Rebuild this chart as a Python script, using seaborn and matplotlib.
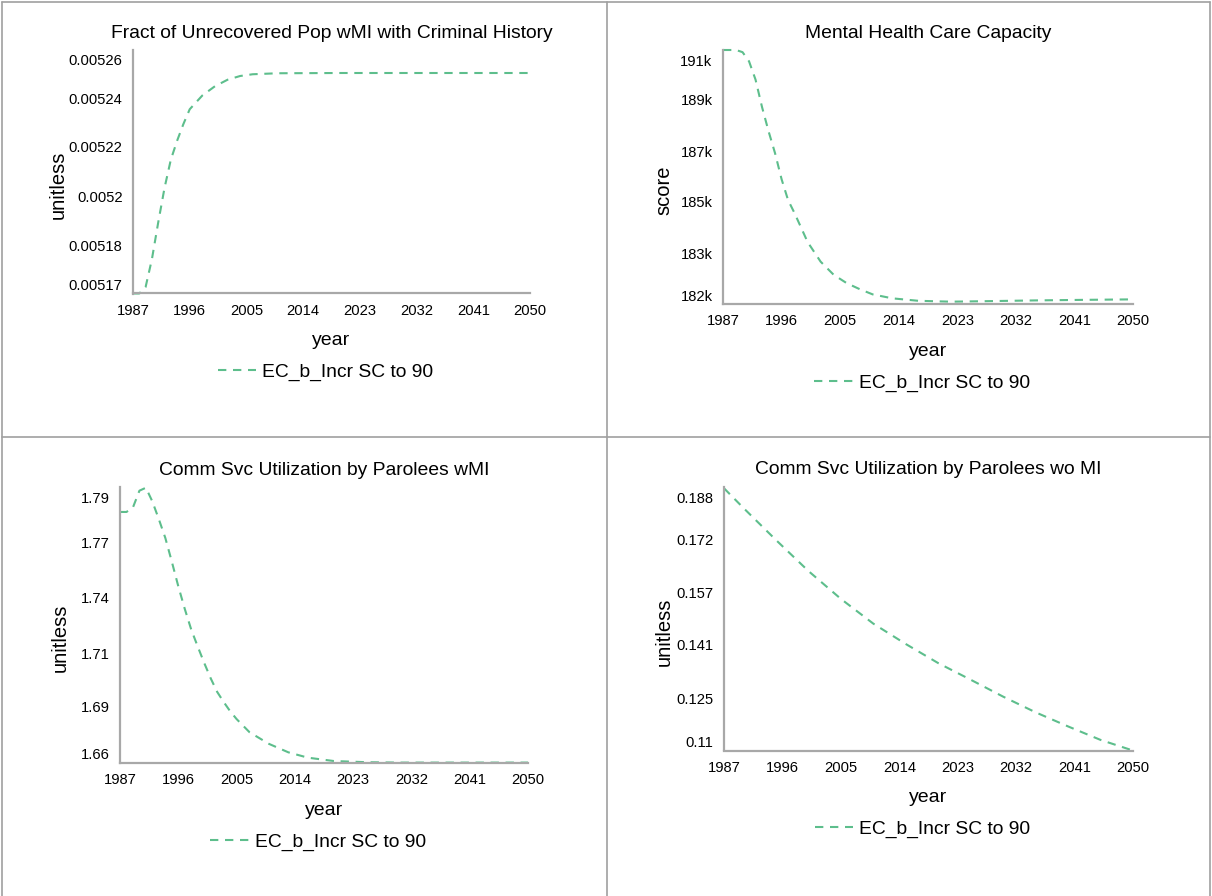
import pandas as pd
import matplotlib.pyplot as plt
from matplotlib.lines import Line2D
import seaborn as sns

# --- values ---
scenario = "EC_b_Incr SC to 90"
x_ticks = [1987, 1996, 2005, 2014, 2023, 2032, 2041, 2050]

fract_years = [1987, 1988, 1989, 1990, 1991, 1992, 1993, 1994, 1995, 1996, 1998,
               2000, 2002, 2004, 2006, 2010, 2020, 2030, 2040, 2050]
fract_values = [0.0051663, 0.0051663, 0.0051689, 0.0051800, 0.0051947, 0.0052085,
                0.0052198, 0.0052274, 0.0052341, 0.0052400, 0.0052455, 0.0052492,
                0.0052518, 0.0052533, 0.0052540, 0.0052544, 0.0052545, 0.0052545,
                0.0052545, 0.0052545]
fract_yticks = [0.00517, 0.0051853, 0.0052052, 0.005225, 0.0052444, 0.00526]
fract_ylabels = ["0.00517", "0.00518", "0.0052", "0.00522", "0.00524", "0.00526"]
fract_ylim = (0.0051663, 0.0052637)

capacity_years = [1987, 1989, 1990, 1991, 1992, 1993, 1994, 1995, 1996, 1997, 1998,
                  2000, 2002, 2004, 2006, 2008, 2010, 2013, 2017, 2022, 2028, 2035,
                  2042, 2050]
capacity_values = [191382, 191382, 191300, 190950, 190250, 189200, 188280, 187440,
                   186450, 185650, 185150, 184050, 183300, 182800, 182480, 182250,
                   182050, 181900, 181805, 181772, 181793, 181820, 181840, 181860]
capacity_yticks = [182000, 183619, 185588, 187524, 189499, 191000]
capacity_ylabels = ["182k", "183k", "185k", "187k", "189k", "191k"]
capacity_ylim = (181683, 191382)

wmi_years = [1987, 1988, 1989, 1990, 1991, 1992, 1993, 1994, 1995, 1996, 1997, 1998,
             1999, 2000, 2001, 2002, 2003, 2004, 2005, 2007, 2010, 2013, 2016, 2020,
             2025, 2030, 2040, 2050]
wmi_values = [1.7827, 1.7827, 1.7850, 1.7935, 1.7950, 1.7880, 1.7790, 1.7695, 1.7575,
              1.7450, 1.7335, 1.7230, 1.7144, 1.7061, 1.6983, 1.6914, 1.6863, 1.6816,
              1.6776, 1.6709, 1.6650, 1.6607, 1.6580, 1.6563, 1.6557, 1.6555, 1.6555,
              1.6555]
wmi_yticks = [1.66, 1.68396, 1.711, 1.73951, 1.76736, 1.79]
wmi_ylabels = ["1.66", "1.69", "1.71", "1.74", "1.77", "1.79"]
wmi_ylim = (1.65529, 1.79537)

womi_years = [1987, 1990, 1995, 2000, 2005, 2010, 2015, 2020, 2025, 2030, 2035,
              2040, 2045, 2050]
womi_values = [0.1908, 0.1845, 0.1743, 0.1644, 0.1555, 0.1476, 0.1411, 0.1350,
               0.1297, 0.1243, 0.1193, 0.1148, 0.1105, 0.1071]
womi_yticks = [0.11, 0.12375, 0.14101, 0.15763, 0.17457, 0.188]
womi_ylabels = ["0.11", "0.125", "0.141", "0.157", "0.172", "0.188"]
womi_ylim = (0.10712, 0.19120)

panels = [
    ("Fract of Unrecovered Pop wMI with Criminal History", "unitless",
     fract_years, fract_values, fract_yticks, fract_ylabels, fract_ylim),
    ("Mental Health Care Capacity", "score",
     capacity_years, capacity_values, capacity_yticks, capacity_ylabels, capacity_ylim),
    ("Comm Svc Utilization by Parolees wMI", "unitless",
     wmi_years, wmi_values, wmi_yticks, wmi_ylabels, wmi_ylim),
    ("Comm Svc Utilization by Parolees wo MI", "unitless",
     womi_years, womi_values, womi_yticks, womi_ylabels, womi_ylim),
]

# axes boxes in pixels: left, top, right, bottom ; and y-label x centre
W, H = 1212, 896
boxes = [(133, 50, 530, 293.5), (723, 50, 1133, 304),
         (120, 487, 528, 763), (724, 487, 1133, 750.5)]
ylabel_x = [58, 664, 60, 664]

line_color = "#5DBE8C"
spine_color = "#A8A8A8"

sns.set_style("white")
plt.rcParams["font.family"] = ["Liberation Sans", "DejaVu Sans"]
plt.rcParams["text.color"] = "black"
plt.rcParams["axes.labelcolor"] = "black"

fig = plt.figure(figsize=(W / 100, H / 100), dpi=100)

for (title, ylab, years, values, yt, ytl, ylim), box, ylx in zip(panels, boxes, ylabel_x):
    l, t, r, b = box
    w, h = r - l, b - t
    ax = fig.add_axes([l / W, 1 - b / H, w / W, h / H])
    df = pd.DataFrame({"year": years, "value": values})
    sns.lineplot(data=df, x="year", y="value", ax=ax, color=line_color,
                 linewidth=1.5, linestyle=(0, (4, 3.2)), label=scenario,
                 clip_on=False)

    ax.set_xlim(1987, 2050)
    ax.set_ylim(*ylim)
    ax.set_xticks(x_ticks)
    ax.set_xticklabels([str(v) for v in x_ticks])
    ax.set_yticks(yt)
    ax.set_yticklabels(ytl)
    ax.tick_params(axis="both", length=0, labelsize=10.6, colors="black")
    ax.tick_params(axis="x", pad=7.5)
    ax.tick_params(axis="y", pad=7.5)

    sns.despine(ax=ax)
    for side in ["left", "bottom"]:
        ax.spines[side].set_color(spine_color)
        ax.spines[side].set_linewidth(1.6)

    ax.text(0.5, 1 + 17 / h, title, transform=ax.transAxes, ha="center",
            va="center", fontsize=13.9, color="black")

    ax.set_xlabel("year", fontsize=14)
    ax.xaxis.label.set_va("center")
    ax.xaxis.set_label_coords(0.5, -47 / h)
    ax.set_ylabel(ylab, fontsize=14.5)
    ax.yaxis.label.set_va("center")
    ax.yaxis.set_label_coords((ylx - l) / w, 0.5 - 13 / h)

    leg = ax.legend(loc="center", bbox_to_anchor=(0.5 - 6 / w, -79 / h), frameon=False,
                    fontsize=13.9, handlelength=2.0, handletextpad=0.3, borderpad=0)
    for txt in leg.get_texts():
        txt.set_color("black")

# cell borders of the dashboard grid
for xs, ys in [([2 / W, 2 / W], [0, 1 - 2 / H]),
               ([1210 / W, 1210 / W], [0, 1 - 2 / H]),
               ([2 / W, 1210 / W], [1 - 2 / H, 1 - 2 / H]),
               ([607 / W, 607 / W], [0, 1 - 2 / H]),
               ([2 / W, 1210 / W], [1 - 437 / H, 1 - 437 / H])]:
    fig.add_artist(Line2D(xs, ys, color="#A0A0A0", linewidth=1.2))

fig.savefig("out.png", dpi=100, facecolor="white")
